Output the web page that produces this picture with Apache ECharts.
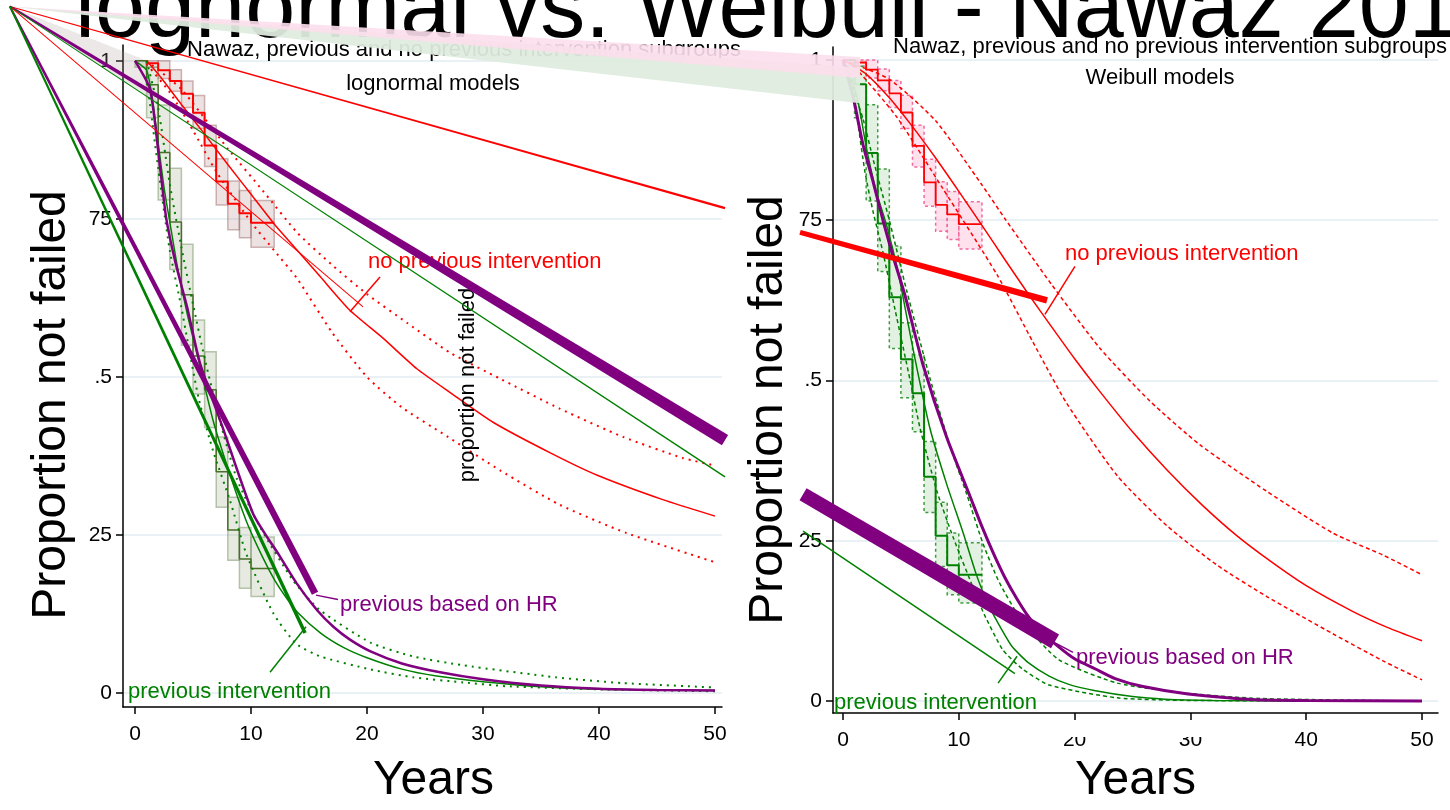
<!DOCTYPE html>
<html>
<head>
<meta charset="utf-8">
<title>lognormal vs. Weibull - Nawaz 2014</title>
<script src="https://cdn.jsdelivr.net/npm/echarts@6/dist/echarts.min.js"></script>
<style>
  html, body { margin: 0; background: #fff; }
  #chart { width: 1450px; height: 810px; }
</style>
</head>
<body>
<div id="chart"></div>
<script>
// ---- axis ticks ----
const xTicks = [0, 10, 20, 30, 40, 50];
const yTicks = [0, 0.25, 0.5, 0.75, 1];
const yTickLabels = ['0', '25', '.5', '75', '1'];

// ---- Kaplan-Meier, no previous intervention (same data in both panels) ----
const noPrevKmT = [1, 2, 3, 4, 5, 6, 7, 8, 9, 10];
const noPrevKmS = [0.996, 0.985, 0.968, 0.948, 0.918, 0.866, 0.809, 0.774, 0.759, 0.744];
const noPrevKmEnd = 12;
const noPrevCiT = [1, 2, 3, 4, 5, 6, 7, 8, 9, 10, 12];
const noPrevCiHi = [1.0, 1.0, 0.986, 0.968, 0.945, 0.898, 0.845, 0.81, 0.795, 0.779];
const noPrevCiLo = [0.99, 0.972, 0.952, 0.926, 0.893, 0.833, 0.772, 0.733, 0.72, 0.705];

// ---- Kaplan-Meier, previous intervention ----
const prevKmT = [0, 1, 2, 3, 4, 5, 6, 7, 8, 9, 10];
const prevKmS = [1.0, 0.962, 0.855, 0.745, 0.63, 0.533, 0.48, 0.35, 0.258, 0.212, 0.197];
const prevKmEnd = 12;
const prevCiT = [0, 1, 2, 3, 4, 5, 6, 7, 8, 9, 10, 12];
const prevCiHi = [1.0, 0.99, 0.93, 0.83, 0.71, 0.59, 0.54, 0.405, 0.31, 0.262, 0.247];
const prevCiLo = [0.99, 0.91, 0.78, 0.67, 0.55, 0.473, 0.42, 0.294, 0.21, 0.166, 0.153];

// ---- lognormal models (left panel) ----
const lnNoPrevT = [1, 2, 4, 6, 8, 10, 12, 14, 16, 18.5, 21.4, 24.3, 27.2, 30.9, 35.8, 39.8, 45.5, 50];
const lnNoPrevS = [1.0, 0.979, 0.931, 0.884, 0.836, 0.789, 0.742, 0.70, 0.658, 0.606, 0.561, 0.513, 0.475, 0.428, 0.38, 0.345, 0.306, 0.28];
const lnNoPrevHiT = [1, 4, 8, 11, 14, 17, 20, 23.5, 27.2, 31.5, 36.6, 42.1, 47.2, 50];
const lnNoPrevHiS = [1.0, 0.955, 0.861, 0.795, 0.728, 0.677, 0.631, 0.585, 0.538, 0.497, 0.45, 0.405, 0.372, 0.36];
const lnNoPrevLoT = [1, 3, 5, 7, 10, 12, 14, 17, 20, 23, 27, 31.5, 36.6, 42.4, 50];
const lnNoPrevLoS = [0.995, 0.95, 0.89, 0.825, 0.745, 0.70, 0.655, 0.57, 0.5, 0.452, 0.405, 0.352, 0.298, 0.253, 0.207];

const lnPrevT = [0, 1, 1.5, 2, 2.5, 3, 3.7, 4.5, 5.5, 6.75, 8.2, 9.6, 11, 12, 13, 14, 16, 18, 20, 23, 26, 30, 35, 40, 45, 50];
const lnPrevS = [1, 0.985, 0.94, 0.87, 0.80, 0.745, 0.67, 0.60, 0.525, 0.43, 0.345, 0.272, 0.215, 0.18, 0.152, 0.128, 0.095, 0.072, 0.056, 0.038, 0.027, 0.018, 0.01, 0.006, 0.005, 0.004];
const lnPrevHiT = [1, 2, 3, 4, 5, 6, 7.3, 8.8, 10.8, 13.6, 15.9, 20.3, 24, 28.3, 36.3, 42, 50];
const lnPrevHiS = [1.0, 0.925, 0.805, 0.705, 0.615, 0.53, 0.432, 0.338, 0.262, 0.179, 0.132, 0.08, 0.058, 0.044, 0.025, 0.016, 0.009];
const lnPrevLoT = [1, 2, 3, 4, 4.5, 5.5, 6.75, 8.2, 9.6, 11.9, 13.9, 16, 20.3, 24, 28.3, 32, 40, 50];
const lnPrevLoS = [0.975, 0.83, 0.70, 0.61, 0.56, 0.465, 0.382, 0.304, 0.22, 0.127, 0.078, 0.058, 0.0375, 0.025, 0.017, 0.011, 0.006, 0.003];

const lnHrT = [0, 1.3, 2.2, 2.7, 3.5, 4.5, 5.6, 7.6, 10.2, 12.5, 14, 15.7, 17.1, 18.5, 20.3, 23, 26.3, 30, 35, 40, 45, 50];
const lnHrS = [1, 0.955, 0.825, 0.75, 0.68, 0.61, 0.522, 0.418, 0.283, 0.216, 0.172, 0.131, 0.105, 0.085, 0.066, 0.047, 0.033, 0.022, 0.012, 0.007, 0.005, 0.004];

// ---- Weibull models (right panel) ----
const wbNoPrevT = [0, 2, 4, 6, 8, 10, 12, 14, 16, 18, 20, 22, 25, 28, 31, 34, 37, 40, 44, 47, 50];
const wbNoPrevS = [1, 0.978, 0.941, 0.896, 0.847, 0.795, 0.742, 0.688, 0.635, 0.584, 0.534, 0.487, 0.42, 0.36, 0.306, 0.258, 0.217, 0.18, 0.14, 0.115, 0.094];
const wbNoPrevHiT = [0, 4, 8, 12, 14, 18, 22.2, 26.5, 30.8, 36.6, 42.3, 46.6, 50];
const wbNoPrevHiS = [1, 0.97, 0.905, 0.805, 0.752, 0.65, 0.55, 0.468, 0.40, 0.327, 0.262, 0.228, 0.197];
const wbNoPrevLoT = [0, 0.6, 4.6, 8.6, 13.3, 16.4, 19.3, 23.7, 28, 32.3, 36.6, 42.3, 46.6, 50];
const wbNoPrevLoS = [1, 0.997, 0.912, 0.80, 0.665, 0.56, 0.465, 0.351, 0.273, 0.212, 0.163, 0.105, 0.063, 0.033];

const wbPrevT = [0, 1.2, 2.05, 2.9, 3.8, 4.75, 5.5, 6.37, 7.5, 8.96, 10.4, 11.5, 12.2, 12.7, 13.5, 14.6, 16, 17.8, 19.5, 21.8, 25, 27.8, 32, 40, 50];
const wbPrevS = [1, 0.943, 0.86, 0.793, 0.74, 0.67, 0.60, 0.52, 0.426, 0.338, 0.261, 0.198, 0.165, 0.145, 0.118, 0.085, 0.06, 0.039, 0.026, 0.016, 0.007, 0.003, 0.001, 0, 0];
const wbPrevHiT = [0, 1.7, 2.6, 4, 5.5, 7.5, 9.2, 10.7, 12.1, 13.5, 15.4, 18.6, 23.7, 29.8, 36, 50];
const wbPrevHiS = [1, 0.91, 0.845, 0.75, 0.64, 0.504, 0.40, 0.322, 0.245, 0.185, 0.127, 0.065, 0.028, 0.012, 0.004, 0];
const wbPrevLoT = [0, 0.75, 1.3, 1.9, 2.6, 3.45, 4.5, 5.8, 6.65, 8.1, 9.5, 11.5, 12.2, 13.8, 15.5, 17.8, 23.7, 30, 50];
const wbPrevLoS = [1, 0.974, 0.90, 0.825, 0.763, 0.70, 0.61, 0.50, 0.426, 0.328, 0.256, 0.165, 0.135, 0.08, 0.05, 0.025, 0.005, 0.001, 0];

const wbHrT = [0, 0.9, 1.7, 2.6, 3.45, 4.3, 5.35, 6.9, 8.96, 11, 12, 13, 14, 15, 16, 17, 18.6, 20, 21.8, 23.5, 25.8, 29.8, 35.7, 40, 50];
const wbHrS = [1, 0.94, 0.87, 0.81, 0.75, 0.695, 0.633, 0.525, 0.411, 0.318, 0.272, 0.23, 0.192, 0.16, 0.132, 0.11, 0.085, 0.066, 0.05, 0.035, 0.023, 0.011, 0.002, 0.001, 0];

// ---- label leader lines [t, S] ----
const lnLeadNoPrev = [[18.53, 0.603], [21.12, 0.658]];
const lnLeadHr = [[15.6, 0.155], [17.5, 0.148]];
const lnLeadPrev = [[11.64, 0.033], [14.74, 0.105]];
const wbLeadNoPrev = [[17.44, 0.603], [20.03, 0.678]];
const wbLeadHr = [[18.39, 0.09], [19.86, 0.076]];
const wbLeadPrev = [[13.39, 0.028], [15.03, 0.07]];

// ---- stray strokes of the source slide, in each panel's data units ----
const strayOrigin = [-10.78, 1.086];
const strayRedLong = [50.86, 0.767];
const strayPurpleLong = [50.86, 0.40];
const strayGreenLong = [50.86, 0.342];
const strayRedShort = [19.66, 0.611];
const strayPurpleSteep = [15.52, 0.158];
const strayGreenSteep = [14.66, 0.095];
const strayPinkWedge = [[62.5, 1.006], [62.5, 0.973]];
const strayGreenWedge = [[62.5, 0.989], [62.5, 0.933]];
const strayGreyWedge = [[1.03, 1.0], [1.9, 0.934]];
const wbStrayRed = [[-3.71, 0.731], [17.62, 0.625]];
const wbStrayPurple = [[-3.45, 0.3225], [18.31, 0.093]];
const wbStrayGreen = [[-3.45, 0.265], [14.85, 0.043]];

const FONT = "'Liberation Sans', Arial, sans-serif";
const RED = '#ff0000', GREEN = '#008000', PURPLE = '#800080';

const pairs = (t, s) => t.map((v, i) => [v, s[i]]);
function steps(t, s, end) {
  const pts = [[t[0], 1]];
  t.forEach((v, i) => pts.push([v, s[i]]));
  pts.push([end, s[s.length - 1]]);
  return pts;
}
const boxes = (t, hi, lo) => hi.map((h, i) => [t[i], t[i + 1], lo[i], h]);

function line(g, data, color, width, extra) {
  return Object.assign({
    type: 'line', xAxisIndex: g, yAxisIndex: g, data, symbol: 'none', silent: true,
    lineStyle: { color, width }, z: 3
  }, extra || {});
}
function curve(g, t, s, color, width, dotted) {
  return line(g, pairs(t, s), color, width, {
    smooth: 0.2,
    lineStyle: { color, width, type: dotted ? dotted : 'solid' }
  });
}
function ciBoxes(g, t, hi, lo, fill, stroke, dash) {
  return {
    type: 'custom', xAxisIndex: g, yAxisIndex: g, silent: true, z: 1,
    data: boxes(t, hi, lo), encode: { x: [0, 1], y: [2, 3] },
    renderItem: (p, api) => {
      const a = api.coord([api.value(0), api.value(3)]);
      const b = api.coord([api.value(1), api.value(2)]);
      return { type: 'rect', shape: { x: a[0], y: a[1], width: b[0] - a[0], height: b[1] - a[1] },
        style: { fill, stroke, lineWidth: 1.5, lineDash: dash || null } };
    }
  };
}
function taper(g, p0, p1, w0, w1, color, z) {
  return {
    type: 'custom', xAxisIndex: g, yAxisIndex: g, silent: true, clip: false, z: z || 5,
    data: [[p0[0], p0[1], p1[0], p1[1]]], encode: { x: [0, 2], y: [1, 3] },
    renderItem: (p, api) => {
      const a = api.coord([api.value(0), api.value(1)]);
      const b = api.coord([api.value(2), api.value(3)]);
      const dx = b[0] - a[0], dy = b[1] - a[1], len = Math.hypot(dx, dy);
      const nx = -dy / len, ny = dx / len;
      return { type: 'polygon', shape: { points: [
        [a[0] + nx * w0 / 2, a[1] + ny * w0 / 2], [b[0] + nx * w1 / 2, b[1] + ny * w1 / 2],
        [b[0] - nx * w1 / 2, b[1] - ny * w1 / 2], [a[0] - nx * w0 / 2, a[1] - ny * w0 / 2]] },
        style: { fill: color } };
    }
  };
}
function wedge(g, p0, ends, fill, z) {
  return {
    type: 'custom', xAxisIndex: g, yAxisIndex: g, silent: true, clip: false, z: z,
    data: [[p0[0], p0[1], ends[0][0], ends[0][1], ends[1][0], ends[1][1]]],
    encode: { x: [0, 2, 4], y: [1, 3, 5] },
    renderItem: (p, api) => ({
      type: 'polygon',
      shape: { points: [0, 2, 4].map(i => api.coord([api.value(i), api.value(i + 1)])) },
      style: { fill }
    })
  };
}
function text(str, x, y, color, size, align, extra, vAlign) {
  const va = vAlign || 'middle';
  return Object.assign({
    type: 'text', x, y, z: 4, silent: true,
    style: { text: str, fill: color, fontSize: size, fontFamily: FONT,
      align: align, textAlign: align, verticalAlign: va, textVerticalAlign: va }
  }, extra || {});
}

function xAxis(g, min, max, nameGap, namePad) {
  return {
    gridIndex: g, type: 'value', min, max,
    axisLine: { show: true, onZero: false, lineStyle: { color: '#000', width: 1.5 } },
    axisTick: { show: true, customValues: xTicks, length: 7, lineStyle: { color: '#000', width: 1.5 } },
    axisLabel: { customValues: xTicks, color: '#000', fontSize: 21, fontFamily: FONT, margin: 17 },
    splitLine: { show: false },
    name: 'Years', nameLocation: 'middle', nameGap,
    nameTextStyle: { color: '#000', fontSize: 48, fontFamily: FONT, padding: namePad }
  };
}
function yAxis(g, min, max) {
  return {
    gridIndex: g, type: 'value', min, max,
    axisLine: { show: true, onZero: false, lineStyle: { color: '#000', width: 1.5 } },
    axisTick: { show: true, customValues: yTicks, length: 7, lineStyle: { color: '#000', width: 1.5 } },
    axisLabel: {
      customValues: yTicks, color: '#000', fontSize: 21, fontFamily: FONT, margin: 11,
      formatter: v => {
        const i = yTicks.findIndex(t => Math.abs(t - v) < 1e-6);
        return i < 0 ? '' : yTickLabels[i];
      }
    },
    splitLine: { show: true, lineStyle: { color: '#e3edf0', width: 1.5 } }
  };
}

const series = [
  // left panel: KM confidence boxes and steps
  ciBoxes(0, noPrevCiT, noPrevCiHi, noPrevCiLo, 'rgba(165,110,110,0.2)', 'rgba(150,95,95,0.45)'),
  ciBoxes(0, prevCiT, prevCiHi, prevCiLo, 'rgba(140,160,120,0.22)', 'rgba(120,145,100,0.5)'),
  line(0, steps(noPrevKmT, noPrevKmS, noPrevKmEnd), RED, 2, { step: 'end' }),
  line(0, steps(prevKmT, prevKmS, prevKmEnd), '#4b6e2a', 1.5, { step: 'end' }),
  // lognormal fits
  curve(0, lnNoPrevT, lnNoPrevS, RED, 1.5),
  curve(0, lnNoPrevHiT, lnNoPrevHiS, RED, 2, [2, 5]),
  curve(0, lnNoPrevLoT, lnNoPrevLoS, RED, 2, [2, 5]),
  curve(0, lnPrevT, lnPrevS, GREEN, 1.5),
  curve(0, lnPrevHiT, lnPrevHiS, GREEN, 2, [2, 5]),
  curve(0, lnPrevLoT, lnPrevLoS, GREEN, 2, [2, 5]),
  curve(0, lnHrT, lnHrS, PURPLE, 2.5),
  line(0, lnLeadNoPrev, RED, 1.5),
  line(0, lnLeadHr, PURPLE, 1.5),
  line(0, lnLeadPrev, GREEN, 1.5),

  // right panel: KM confidence boxes and steps
  ciBoxes(1, noPrevCiT, noPrevCiHi, noPrevCiLo, 'rgba(255,160,200,0.32)', '#f06a9e', [3, 3]),
  ciBoxes(1, prevCiT, prevCiHi, prevCiLo, 'rgba(175,215,175,0.35)', '#3f9a3f', [3, 3]),
  line(1, steps(noPrevKmT, noPrevKmS, noPrevKmEnd), RED, 1.8, { step: 'end' }),
  line(1, steps(prevKmT, prevKmS, prevKmEnd), GREEN, 2, { step: 'end' }),
  // Weibull fits
  curve(1, wbNoPrevT, wbNoPrevS, RED, 1.5),
  curve(1, wbNoPrevHiT, wbNoPrevHiS, RED, 1.5, [4, 3]),
  curve(1, wbNoPrevLoT, wbNoPrevLoS, RED, 1.5, [4, 3]),
  curve(1, wbPrevT, wbPrevS, GREEN, 1.5),
  curve(1, wbPrevHiT, wbPrevHiS, GREEN, 1.5, [4, 3]),
  curve(1, wbPrevLoT, wbPrevLoS, GREEN, 1.5, [4, 3]),
  curve(1, wbHrT, wbHrS, PURPLE, 3),
  line(1, wbLeadNoPrev, RED, 1.5),
  line(1, wbLeadHr, PURPLE, 1.5),
  line(1, wbLeadPrev, GREEN, 1.5),

  // stray strokes
  wedge(0, strayOrigin, strayGreyWedge, 'rgba(170,150,150,0.22)', 2),
  taper(0, strayOrigin, strayRedLong, 1, 2.5, RED),
  taper(0, strayOrigin, strayPurpleLong, 2, 12, PURPLE),
  taper(0, strayOrigin, strayGreenLong, 1, 1.5, GREEN),
  taper(0, strayOrigin, strayRedShort, 1, 1, RED),
  taper(0, strayOrigin, strayPurpleSteep, 2, 7, PURPLE),
  taper(0, strayOrigin, strayGreenSteep, 2, 3.5, GREEN),
  taper(1, wbStrayRed[0], wbStrayRed[1], 5, 6.5, RED),
  taper(1, wbStrayPurple[0], wbStrayPurple[1], 14, 16, PURPLE),
  taper(1, wbStrayGreen[0], wbStrayGreen[1], 1.5, 1.5, GREEN),
  wedge(0, strayOrigin, strayGreenWedge, 'rgba(222,236,222,0.94)', 8),
  wedge(0, strayOrigin, strayPinkWedge, 'rgba(252,222,236,0.9)', 9)
];

const chart = echarts.init(document.getElementById('chart'));
chart.setOption({
  animation: false,
  backgroundColor: '#fff',
  grid: [
    { left: 123, top: 45, width: 599, height: 670 },
    { left: 833, top: 47, width: 605, height: 670 }
  ],
  xAxis: [xAxis(0, -1.034, 50.6, 50, [0, 0, 0, 22]), xAxis(1, -0.864, 51.38, 44, 0)],
  yAxis: [yAxis(0, -0.0219, 1.025), yAxis(1, -0.0186, 1.0202)],
  series,
  graphic: { elements: [
    text('lognormal vs. Weibull - Nawaz 2014', 75, 57, '#000', 90, 'left', { z: 1 }, 'bottom'),
    text('Nawaz, previous and no previous intervention subgroups', 464, 50, '#000', 22, 'center', { z: 1 }),
    text('lognormal models', 433, 84, '#000', 22, 'center', { z: 1 }),
    text('Nawaz, previous and no previous intervention subgroups', 1170, 47, '#000', 22, 'center', { z: 1 }),
    text('Weibull models', 1160, 78, '#000', 22, 'center', { z: 1 }),
    text('Proportion not failed', 52, 405, '#000', 48, 'center', { rotation: Math.PI / 2 }),
    text('Proportion not failed', 769, 410, '#000', 48, 'center', { rotation: Math.PI / 2 }),
    text('proportion not failed', 468, 385, '#000', 22, 'center', { rotation: Math.PI / 2 }),
    text('no previous intervention', 368, 262, RED, 22, 'left'),
    text('previous based on HR', 340, 605, PURPLE, 22, 'left'),
    text('previous intervention', 128, 692, GREEN, 22, 'left'),
    text('no previous intervention', 1065, 254, RED, 22, 'left'),
    text('previous based on HR', 1076, 658, PURPLE, 22, 'left'),
    text('previous intervention', 834, 703, GREEN, 22, 'left'),
    // white patch that clips the tops of the "20" and "30" labels in the source
    { type: 'rect', z: 6, silent: true, shape: { x: 1055, y: 726, width: 150, height: 11 }, style: { fill: '#fff' } }
  ] }
});
</script>
</body>
</html>
